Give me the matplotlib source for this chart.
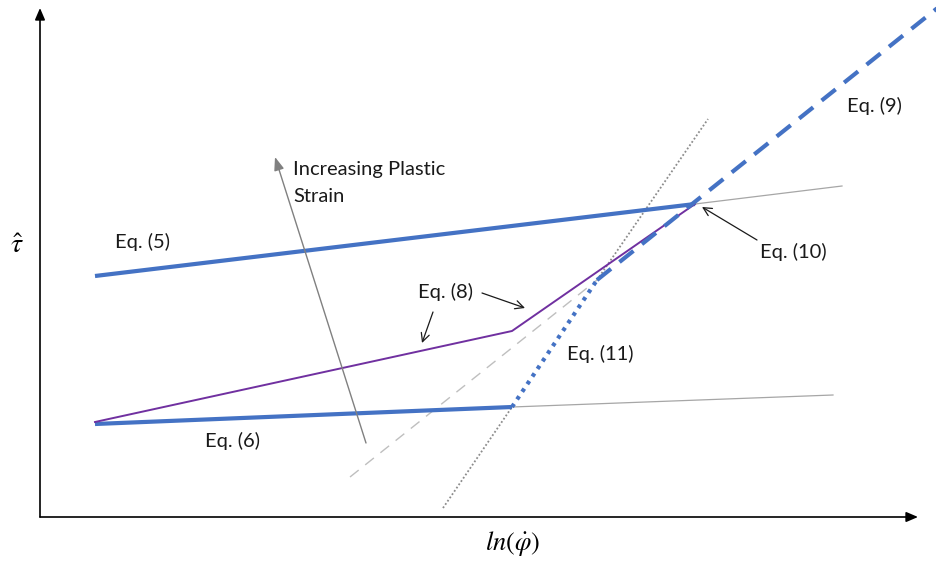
import matplotlib
matplotlib.use("Agg")
import matplotlib.pyplot as plt

plt.rcParams['font.family'] = ['Lato', 'DejaVu Sans']
plt.rcParams['mathtext.fontset'] = 'stix'

# Schematic coordinates (origin at the axes corner)
eq5_x = [55, 655]
eq5_y = [241, 313]
eq5_ext_x = [655, 802]
eq5_ext_y = [313, 331]

eq6_x = [55, 472]
eq6_y = [93, 110]
eq6_ext_x = [472, 793]
eq6_ext_y = [110, 122]

eq8_x = [55, 472, 655]
eq8_y = [95, 186, 313]

eq11_x = [472, 557]
eq11_y = [110, 237]
eq11_low_x = [403, 472]
eq11_low_y = [9, 110]
eq11_high_x = [557, 668]
eq11_high_y = [237, 398]

eq9_x = [557, 905]
eq9_y = [237, 515]
eq9_ext_x = [310, 557]
eq9_ext_y = [40, 237]

strain_tail = (326, 74)
strain_head = (235, 360)

BLUE = '#4472C4'
PURPLE = '#7030A0'
GREY = '#A6A6A6'
TXT = '#1a1a1a'

fig = plt.figure(figsize=(9.37, 5.62), dpi=100)
ax = fig.add_axes([0, 0, 1, 1])
ax.set_xlim(-40, 897)
ax.set_ylim(-45, 517)
ax.axis('off')

# Axes arrows
ax.annotate('', xy=(878, 0), xytext=(0, 0),
            arrowprops=dict(arrowstyle='-|>,head_length=0.7,head_width=0.3',
                            color='black', lw=1.2, shrinkA=0, shrinkB=0))
ax.annotate('', xy=(0, 509), xytext=(0, 0),
            arrowprops=dict(arrowstyle='-|>,head_length=0.7,head_width=0.3',
                            color='black', lw=1.2, shrinkA=0, shrinkB=0))

# Thin grey extensions
ax.plot(eq5_ext_x, eq5_ext_y, color=GREY, lw=0.9)
ax.plot(eq6_ext_x, eq6_ext_y, color=GREY, lw=0.9)
dotted_grey = dict(color='#8C8C8C', lw=1.3, linestyle=(0, (1, 1.2)))
ax.plot(eq11_low_x, eq11_low_y, **dotted_grey)
ax.plot(eq11_high_x, eq11_high_y, **dotted_grey)
ax.plot(eq9_ext_x, eq9_ext_y, color='#BFBFBF', lw=1.0, linestyle=(0, (8, 6)))

# Main curves
ax.plot(eq5_x, eq5_y, color=BLUE, lw=3.0, solid_capstyle='butt')
ax.plot(eq6_x, eq6_y, color=BLUE, lw=3.0, solid_capstyle='butt')
ax.plot(eq8_x, eq8_y, color=PURPLE, lw=1.4)
ax.plot(eq11_x, eq11_y, color=BLUE, lw=3.0, linestyle=(0, (0.9, 1.3)))
ax.plot(eq9_x, eq9_y, color=BLUE, lw=3.0, linestyle=(0, (4.3, 2.6)))

# Increasing plastic strain arrow
ax.annotate('', xy=strain_head, xytext=strain_tail,
            arrowprops=dict(arrowstyle='-|>,head_length=0.8,head_width=0.3',
                            color='#808080', lw=1.0, shrinkA=0, shrinkB=0))
lbl = dict(fontsize=14.5, va='center', ha='left', color=TXT)
ax.text(253, 347, 'Increasing Plastic', **lbl)
ax.text(253, 320, 'Strain', **lbl)

# Equation labels
ax.text(75, 275, 'Eq. (5)', **lbl)
ax.text(165, 76, 'Eq. (6)', **lbl)
ax.text(378, 225, 'Eq. (8)', **lbl)
ax.text(527, 163, 'Eq. (11)', **lbl)
ax.text(720, 265, 'Eq. (10)', **lbl)
ax.text(807, 411, 'Eq. (9)', **lbl)

arr = dict(arrowstyle='->,head_length=0.6,head_width=0.3', color=TXT,
           lw=0.9, shrinkA=0, shrinkB=0)
ax.annotate('', xy=(382, 174), xytext=(393, 205), arrowprops=arr)
ax.annotate('', xy=(485, 209), xytext=(442, 224), arrowprops=arr)
ax.annotate('', xy=(662, 310), xytext=(717, 277), arrowprops=arr)

# Axis titles
ax.text(-23, 272, r'$\hat{\tau}$', fontsize=20, ha='center', va='center')
ax.text(473, -26, r'$ln(\dot{\varphi})$', fontsize=19, ha='center', va='center')

fig.savefig('out.png', dpi=100)
